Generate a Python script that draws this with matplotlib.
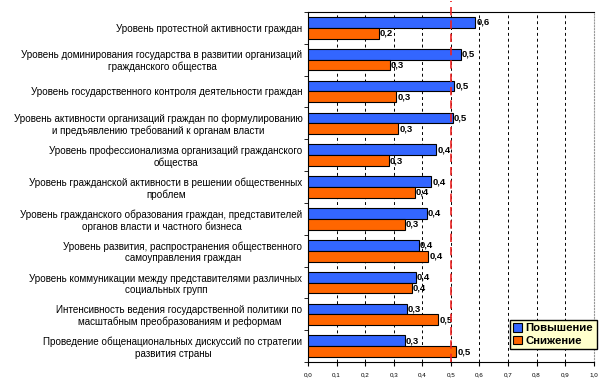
import numpy as np
import matplotlib.pyplot as plt

plt.rcParams['font.family'] = ['Liberation Sans', 'DejaVu Sans']

# Категории (сверху вниз)
categories = [
    'Уровень протестной активности граждан',
    'Уровень доминирования государства в развитии организаций\nгражданского общества',
    'Уровень государственного контроля деятельности граждан',
    'Уровень активности организаций граждан по формулированию\nи предъявлению требований к органам власти',
    'Уровень профессионализма организаций гражданского\nобщества',
    'Уровень гражданской активности в решении общественных\nпроблем',
    'Уровень гражданского образования граждан, представителей\nорганов власти и частного бизнеса',
    'Уровень развития, распространения общественного\nсамоуправления граждан',
    'Уровень коммуникации между представителями различных\nсоциальных групп',
    'Интенсивность ведения государственной политики по\nмасштабным преобразованиям и реформам',
    'Проведение общенациональных дискуссий по стратегии\nразвития страны',
]
povyshenie = [0.586, 0.534, 0.512, 0.507, 0.449, 0.432, 0.415, 0.387, 0.377, 0.345, 0.338]
snizhenie = [0.247, 0.286, 0.309, 0.316, 0.282, 0.373, 0.338, 0.421, 0.363, 0.456, 0.519]
xticks = np.arange(0, 1.01, 0.1)

blue = '#3366FF'
orange = '#FF6600'

fig = plt.figure(figsize=(6.04, 3.84), dpi=100)
ax = fig.add_axes([0.51, 0.057, 0.473, 0.912])

n = len(categories)
y = np.arange(n)
h = 0.34
ax.barh(y - h / 2, povyshenie, height=h, color=blue, edgecolor='black', linewidth=0.8, label='Повышение', zorder=3)
ax.barh(y + h / 2, snizhenie, height=h, color=orange, edgecolor='black', linewidth=0.8, label='Снижение', zorder=3)

for yi, v in zip(y, povyshenie):
    ax.text(v + 0.004, yi - h / 2, f'{v:.1f}'.replace('.', ','), va='center', ha='left',
            fontsize=6.8, fontweight='bold', zorder=4)
for yi, v in zip(y, snizhenie):
    ax.text(v + 0.004, yi + h / 2, f'{v:.1f}'.replace('.', ','), va='center', ha='left',
            fontsize=6.8, fontweight='bold', zorder=4)

ax.set_ylim(n - 0.5, -0.5)
ax.set_xlim(0, 1.0)
ax.set_yticks(y)
ax.set_yticklabels(categories, fontsize=7.1, multialignment='center', linespacing=1.15)
ax.set_yticks(np.arange(-0.5, n, 1), minor=True)
ax.tick_params(axis='y', which='major', length=0, pad=4)
ax.tick_params(axis='y', which='minor', length=3, direction='out')

ax.set_xticks(xticks)
ax.set_xticklabels([f'{t:.1f}'.replace('.', ',') for t in xticks], fontsize=4.5)
ax.tick_params(axis='x', length=3, direction='out', pad=4)

ax.grid(axis='x', linestyle=(0, (3, 3)), color='black', linewidth=0.7, zorder=0)
ax.axvline(0.5, ymin=0, ymax=1.03, color='#EE2222', linestyle=(0, (5, 3)), linewidth=1.2, clip_on=False, zorder=5)

for s in ['top', 'left', 'bottom']:
    ax.spines[s].set_color('black')
ax.spines['right'].set_color('#999999')
ax.spines['right'].set_linestyle(':')

leg = ax.legend(loc='lower right', bbox_to_anchor=(1.03, 0.02), fontsize=8.2, frameon=True,
                fancybox=False, edgecolor='black', facecolor='#FFFFCC', framealpha=1,
                handlelength=0.8, handleheight=0.8, handletextpad=0.3, borderpad=0.3,
                labelspacing=0.2)
for t in leg.get_texts():
    t.set_fontweight('bold')
leg.set_zorder(6)

fig.savefig('out.png', dpi=100)
